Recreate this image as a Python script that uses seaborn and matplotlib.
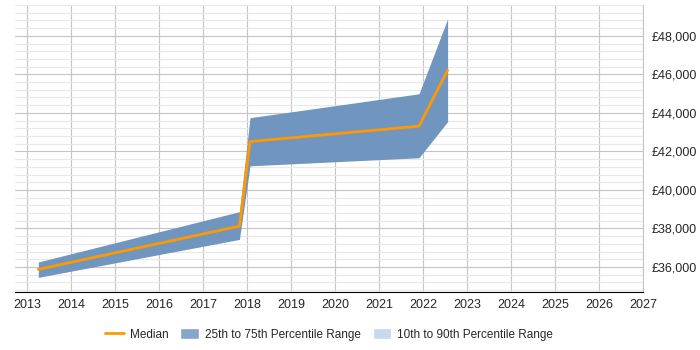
import seaborn as sns
import matplotlib.pyplot as plt
import matplotlib.ticker as mticker
from matplotlib.patches import Patch
from matplotlib.lines import Line2D
import pandas as pd

# Data
years = [2013.26, 2017.83, 2018.07, 2021.91, 2022.56]
median = [35875, 38120, 42510, 43310, 46210]
p25 = [35460, 37430, 41250, 41670, 43540]
p75 = [36260, 38870, 43750, 44990, 48880]
xticks = list(range(2013, 2028))

df = pd.DataFrame({"year": years, "median": median, "p25": p25, "p75": p75})

sns.set_style("white")
plt.rcParams['font.family'] = ['Liberation Sans', 'DejaVu Sans']

fig = plt.figure(figsize=(7, 3.5), dpi=100)
ax = fig.add_axes([15 / 700, 58 / 350, 628 / 700, 287 / 350])

band_col = "#7096c0"
light_col = "#c6d9ee"
med_col = "#ff9900"

ax.fill_between(df["year"], df["p25"], df["p75"], color=band_col, lw=0, zorder=2)
sns.lineplot(data=df, x="year", y="median", color=med_col, lw=2, ax=ax, zorder=3)

ax.set_xlim(2012.73, 2027)
ax.set_ylim(34700, 49600)
ax.set_xticks(xticks)
ax.yaxis.set_major_locator(mticker.MultipleLocator(2000))
ax.yaxis.set_minor_locator(mticker.MultipleLocator(400))
ax.yaxis.set_major_formatter(mticker.FuncFormatter(lambda v, p: f"£{v:,.0f}"))
ax.yaxis.tick_right()

ax.grid(True, which="major", axis="both", color="#c4c4c4", lw=0.8, zorder=0)
ax.grid(True, which="minor", axis="y", color="#e8e8e8", lw=0.8, zorder=0)
ax.set_axisbelow(True)

for s in ["top", "left"]:
    ax.spines[s].set_visible(False)
ax.spines["right"].set_color("#c4c4c4")
ax.spines["bottom"].set_color("black")
ax.tick_params(axis="x", length=3, color="black", labelsize=9, pad=2)
ax.tick_params(axis="y", which="both", length=0, labelsize=9, pad=6)
ax.set_xlabel("")
ax.set_ylabel("")

handles = [
    Line2D([0], [0], color=med_col, lw=2),
    Patch(facecolor="#85a5c9"),
    Patch(facecolor=light_col),
]
labels = ["Median", "25th to 75th Percentile Range", "10th to 90th Percentile Range"]
fig.legend(handles, labels, loc="center", bbox_to_anchor=(0.47, 0.045), ncol=3,
           frameon=False, fontsize=8.5, handlelength=1.6, handleheight=1.1,
           columnspacing=1.0, handletextpad=0.5)

fig.savefig("out.png", dpi=100)
